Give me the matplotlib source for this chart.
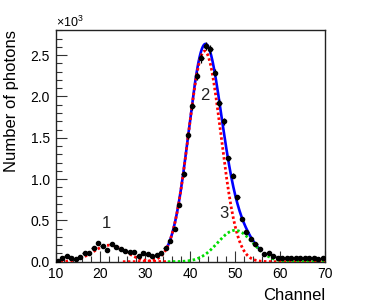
import numpy as np
import matplotlib
matplotlib.use("Agg")
import matplotlib.pyplot as plt
from matplotlib.ticker import MultipleLocator, FormatStrFormatter

# ---- data (counts in units of 10^3) ----
channels = [10.5, 11.5, 12.5, 13.5, 14.5, 15.5, 16.5, 17.5, 18.5, 19.5,
            20.5, 21.5, 22.5, 23.5, 24.5, 25.5, 26.5, 27.5, 28.5, 29.5,
            30.5, 31.5, 32.5, 33.5, 34.5, 35.5, 36.5, 37.5, 38.5, 39.5,
            40.5, 41.5, 42.5, 43.5, 44.5, 45.5, 46.5, 47.5, 48.5, 49.5,
            50.5, 51.5, 52.5, 53.5, 54.5, 55.5, 56.5, 57.5, 58.5, 59.5,
            60.5, 61.5, 62.5, 63.5, 64.5, 65.5, 66.5, 67.5, 68.5, 69.5]
counts = [0.01, 0.04, 0.065, 0.05, 0.035, 0.06, 0.105, 0.11, 0.17, 0.23,
          0.19, 0.14, 0.21, 0.18, 0.15, 0.13, 0.12, 0.12, 0.07, 0.10,
          0.09, 0.07, 0.08, 0.11, 0.16, 0.25, 0.40, 0.69, 1.06, 1.53,
          1.88, 2.25, 2.46, 2.61, 2.57, 2.29, 1.92, 1.70, 1.25, 1.04,
          0.78, 0.52, 0.36, 0.27, 0.21, 0.15, 0.09, 0.10, 0.07, 0.05,
          0.05, 0.04, 0.04, 0.04, 0.04, 0.04, 0.05, 0.04, 0.03, 0.04]

# Gaussian fit components: amplitude (10^3), mean, sigma, drawing range
peak_amp = [0.20, 2.55, 0.38]
peak_mean = [22.0, 43.2, 50.0]
peak_sigma = [3.6, 3.6, 3.9]
peak_range = [(10, 35), (25, 70), (35, 70)]
peak_colors = ["#ff0000", "#ff0000", "#00dd00"]
total_range = (35, 55.5)

peak_labels = ["1", "2", "3"]
label_x = [21.3, 43.3, 47.6]
label_y = [0.37, 1.92, 0.49]

x_ticks = [10, 20, 30, 40, 50, 60, 70]
y_ticks = [0.0, 0.5, 1.0, 1.5, 2.0, 2.5]

plt.rcParams['font.family'] = ['Liberation Sans', 'DejaVu Sans']
plt.rcParams['mathtext.fontset'] = 'custom'
plt.rcParams['mathtext.rm'] = 'Liberation Sans'
plt.rcParams['mathtext.it'] = 'Liberation Sans'

W, H = 374, 308
fig = plt.figure(figsize=(W / 100, H / 100), dpi=100)
ax = fig.add_axes([55.5 / W, 1 - 261.7 / H, (325 - 55.5) / W, (261.7 - 30) / H])


def gauss(x, a, m, s):
    return a * np.exp(-(x - m) ** 2 / (2 * s * s))


# total fit
xt = np.linspace(total_range[0], total_range[1], 400)
yt = sum(gauss(xt, a, m, s) for a, m, s in zip(peak_amp, peak_mean, peak_sigma))
ax.plot(xt, yt, color="#0000ff", lw=1.9, zorder=2)

# component curves
for a, m, s, (lo, hi), c in zip(peak_amp, peak_mean, peak_sigma, peak_range, peak_colors):
    xx = np.linspace(lo, hi, 400)
    ax.plot(xx, gauss(xx, a, m, s), color=c, lw=2.0, ls=(0, (0.9, 0.9)), zorder=3)

# data points with errors
cnt = np.array(counts)
yerr = np.sqrt(cnt * 1000.0) / 1000.0
ax.errorbar(channels, counts, yerr=yerr, xerr=0.5, fmt='o', color='black',
            ms=3.0, elinewidth=0.9, capsize=0, zorder=4)

for t, x, y in zip(peak_labels, label_x, label_y):
    ax.text(x, y, t, fontsize=12, ha='center', va='bottom', color='#222222')

ax.set_xlim(10, 70)
ax.set_ylim(0, 2.805)
ax.set_xticks(x_ticks)
ax.set_yticks(y_ticks)
ax.xaxis.set_minor_locator(MultipleLocator(2))
ax.yaxis.set_minor_locator(MultipleLocator(0.1))
ax.yaxis.set_major_formatter(FormatStrFormatter('%.1f'))
ax.tick_params(which='both', direction='in', top=False, right=False, labelsize=10, width=0.8, color='#333333')
ax.tick_params(axis='x', which='major', length=8, pad=4)
ax.tick_params(axis='x', which='minor', length=4)
ax.tick_params(axis='y', which='major', length=8, pad=4)
ax.tick_params(axis='y', which='minor', length=4)
for sp in ax.spines.values():
    sp.set_linewidth(1.0)
    sp.set_color('#222222')

fig.text(56 / W, 1 - 27 / H, r"$\times10^{3}$", fontsize=9, ha='left', va='baseline')
fig.text(325 / W, 1 - 300 / H, "Channel", fontsize=12, ha='right', va='baseline')
fig.text(12 / W, 1 - 30 / H, "Number of photons", fontsize=12, rotation=90, ha='center', va='top')

fig.savefig("out.png", dpi=100)
